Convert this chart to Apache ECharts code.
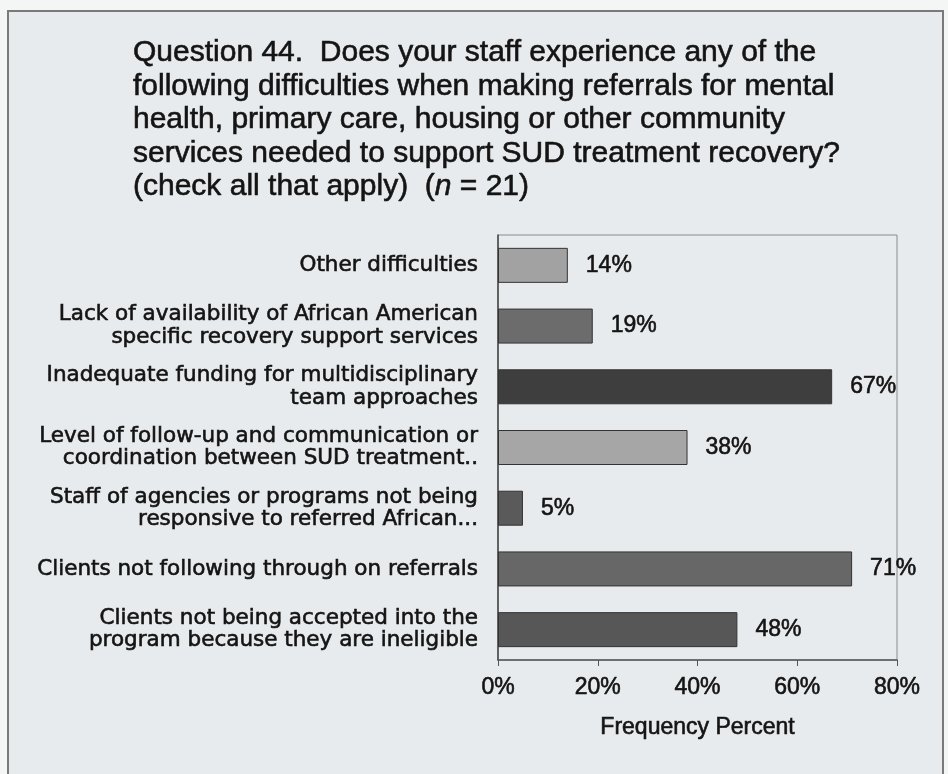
<!DOCTYPE html>
<html>
<head>
<meta charset="utf-8">
<script src="https://cdn.jsdelivr.net/npm/echarts@6/dist/echarts.min.js"></script>
<style>
  html, body { margin: 0; padding: 0; background: #f4f5f5; }
  #chart { width: 948px; height: 774px; }
</style>
</head>
<body>
<div id="chart"></div>
<script>
// Survey responses, listed top to bottom as shown
const categories = [
  'Other difficulties',
  'Lack of availability of African American\nspecific recovery support services',
  'Inadequate funding for multidisciplinary\nteam approaches',
  'Level of follow-up and communication or\ncoordination between SUD treatment..',
  'Staff of agencies or programs not being\nresponsive to referred African...',
  'Clients not following through on referrals',
  'Clients not being accepted into the\nprogram because they are ineligible'
];
const percents = [14, 19, 67, 38, 5, 71, 48];
const barColors = ['#a2a2a2', '#6c6c6c', '#3e3e3e', '#a6a6a6', '#5a5a5a', '#676767', '#575757'];
const xTicks = { min: 0, max: 80, step: 20 };

const ink = '#141414';
// a thin outline of the same colour gives the text a heavier, printed look
const heavy = { textBorderColor: ink, textBorderWidth: 0.6 };

const chart = echarts.init(document.getElementById('chart'), null, { renderer: 'canvas' });

chart.setOption({
  backgroundColor: 'transparent',
  animation: false,
  graphic: [{
    type: 'rect',
    z: -10,
    shape: { x: 8, y: 11, width: 935, height: 800 },
    style: { fill: '#e8ebed', stroke: '#7a7a7a', lineWidth: 2 }
  }],
  title: {
    left: 128,
    top: 31,
    text: 'Question 44.  Does your staff experience any of the\n' +
          'following difficulties when making referrals for mental\n' +
          'health, primary care, housing or other community\n' +
          'services needed to support SUD treatment recovery?\n' +
          '(check all that apply)  ({i|n} = 21)',
    textStyle: Object.assign({
      fontFamily: 'Liberation Sans, Arial, sans-serif',
      fontSize: 30,
      fontWeight: 'normal',
      lineHeight: 33.5,
      color: ink,
      rich: {
        i: Object.assign({
          fontFamily: 'Liberation Sans, Arial, sans-serif',
          fontSize: 30,
          fontStyle: 'italic',
          lineHeight: 33.5,
          color: ink
        }, heavy)
      }
    }, heavy)
  },
  grid: {
    left: 498,
    top: 235,
    width: 399,
    height: 425,
    show: true,
    borderColor: '#8a8a8a',
    borderWidth: 1,
    backgroundColor: 'transparent'
  },
  xAxis: {
    type: 'value',
    min: xTicks.min,
    max: xTicks.max,
    interval: xTicks.step,
    name: 'Frequency Percent',
    nameLocation: 'middle',
    nameGap: 56,
    nameTextStyle: Object.assign({
      fontFamily: 'Liberation Sans, Arial, sans-serif',
      fontSize: 23,
      color: ink
    }, heavy),
    axisLine: { show: true, lineStyle: { color: '#555', width: 1.5 } },
    axisTick: { show: true, inside: false, length: 6, lineStyle: { color: '#555' } },
    splitLine: { show: false },
    axisLabel: Object.assign({
      formatter: '{value}%',
      margin: 16,
      fontFamily: 'Liberation Sans, Arial, sans-serif',
      fontSize: 23,
      color: ink
    }, heavy)
  },
  yAxis: {
    type: 'category',
    inverse: true,
    data: categories,
    axisLine: { show: true, lineStyle: { color: '#444', width: 1.5 } },
    axisTick: { show: false },
    axisLabel: Object.assign({
      margin: 20,
      align: 'right',
      fontFamily: 'DejaVu Sans, sans-serif',
      fontSize: 21.5,
      lineHeight: 22.5,
      color: ink
    }, heavy)
  },
  series: [{
    type: 'bar',
    barWidth: 35,
    data: percents.map((v, i) => ({
      value: v,
      itemStyle: { color: barColors[i], borderColor: '#333', borderWidth: 1 }
    })),
    label: Object.assign({
      show: true,
      position: 'right',
      distance: 18,
      formatter: '{c}%',
      fontFamily: 'Liberation Sans, Arial, sans-serif',
      fontSize: 23,
      color: ink
    }, heavy)
  }]
});
</script>
</body>
</html>
